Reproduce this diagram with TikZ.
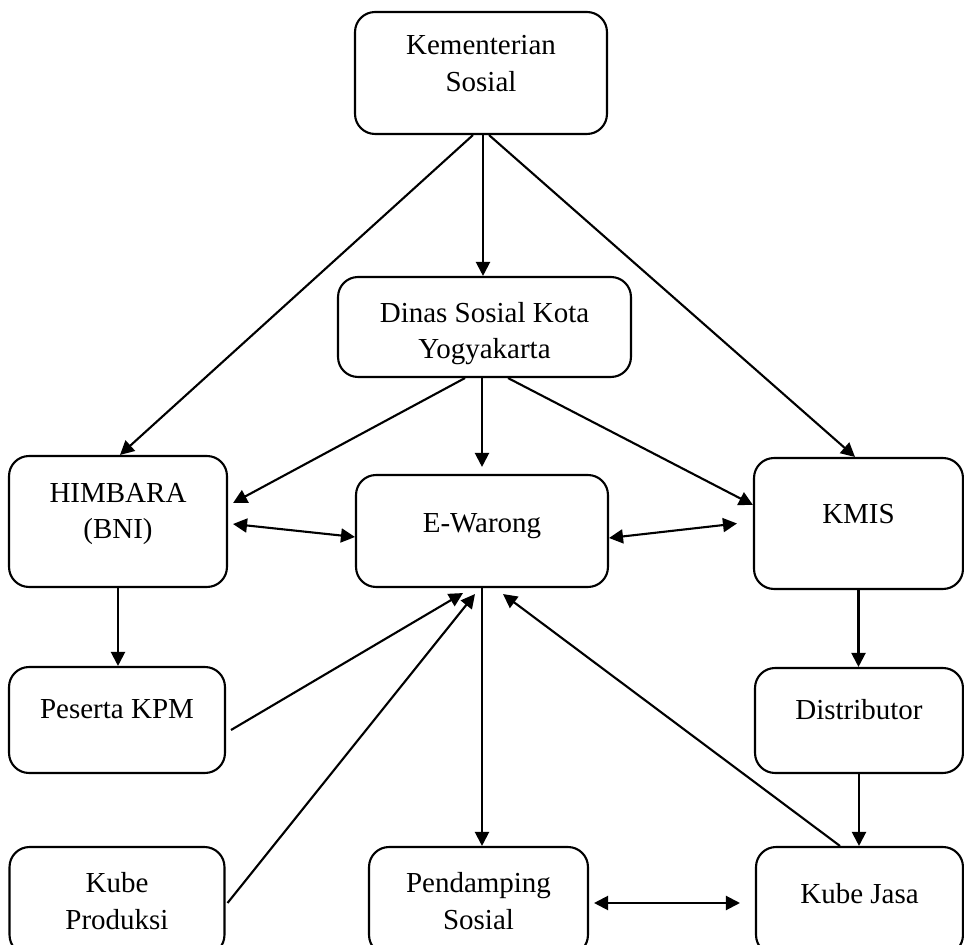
\documentclass[tikz,border=0pt]{standalone}
\usepackage{fontspec}
\setmainfont{Liberation Serif}
\usetikzlibrary{arrows.meta}
\begin{document}
\begin{tikzpicture}[x=.02cm, y=-.02cm, line width=1.2pt,
   >={Triangle[length=2.8mm,width=2.8mm]},
   box/.style={draw, rounded corners=.4cm, align=center, inner sep=0pt,
      font=\fontsize{16.5}{20.8}\selectfont},
   lift/.style={execute at end node={\rule[-#1]{0pt}{#1}}}]
   \useasboundingbox (0,0) rectangle (964,945);
   \clip (0,0) rectangle (964,945);

   \node[box, minimum width=5.04cm, minimum height=2.44cm, lift=.38cm] (kemsos) at (481,73) {Kementerian\\Sosial};
   \node[box, minimum width=5.86cm, minimum height=2cm] (dinsos) at (484.5,327) {\rule{0pt}{.66cm}Dinas Sosial Kota\\Yogyakarta};
   \node[box, minimum width=4.36cm, minimum height=2.62cm, lift=.42cm] (himbara) at (118,521.5) {HIMBARA\\(BNI)};
   \node[box, minimum width=5.04cm, minimum height=2.24cm, lift=.32cm] (ewarong) at (482,531) {E-Warong};
   \node[box, minimum width=4.18cm, minimum height=2.62cm, lift=.4cm] (kmis) at (858.5,523.5) {KMIS};
   \node[box, minimum width=4.32cm, minimum height=2.12cm, lift=.42cm] (peserta) at (117,720) {Peserta KPM};
   \node[box, minimum width=4.16cm, minimum height=2.1cm, lift=.46cm] (distri) at (859,720.5) {Distributor};
   \node[box, minimum width=4.3cm, minimum height=2.16cm] (kubeprod) at (117,901) {Kube\\Produksi};
   \node[box, minimum width=4.38cm, minimum height=2.16cm] (pendamping) at (478.5,901) {Pendamping\\Sosial};
   \node[box, minimum width=4.14cm, minimum height=2.16cm, lift=.32cm] (kubejasa) at (859.5,901) {Kube Jasa};

   \draw[->] ([xshift=-.16cm]kemsos.south) -- ([xshift=.04cm]himbara.north);
   \draw[->] ([xshift=.04cm]kemsos.south) -- ([xshift=.04cm]kemsos.south |- dinsos.north);
   \draw[->] ([xshift=.16cm]kemsos.south) -- ([xshift=-.07cm]kmis.north);
   \draw[->] (ewarong.north |- dinsos.south) -- ([yshift=.14cm]ewarong.north);
   \draw[->] ([xshift=-.39cm]dinsos.south) -- ([xshift=.1cm, yshift=.37cm]himbara.east);
   \draw[->] ([xshift=.47cm]dinsos.south) -- ([yshift=.37cm]kmis.west);

   \draw[<->] ([xshift=.1cm, yshift=-.05cm]himbara.east) -- ([yshift=-.12cm]ewarong.west);
   \draw[<->] ([yshift=-.14cm]ewarong.east) -- ([xshift=-.32cm]kmis.west);
   \draw[<->] ([xshift=.1cm, yshift=-.04cm]pendamping.east) -- ([xshift=-.3cm, yshift=-.04cm]kubejasa.west);

   \foreach \a/\b in {himbara/peserta, kmis/distri, ewarong/pendamping, distri/kubejasa}
   \draw[->] (\a.south) -- (\a.south |- \b.north);

   \draw[->] ([xshift=.1cm, yshift=-.2cm]peserta.east) -- ([xshift=-.38cm, yshift=-.1cm]ewarong.south);
   \draw[->] ([xshift=.04cm, yshift=-.04cm]kubeprod.east) -- ([xshift=-.14cm, yshift=-.12cm]ewarong.south);
   \draw[->] ([xshift=-.39cm]kubejasa.north) -- ([xshift=.42cm, yshift=-.12cm]ewarong.south);

\end{tikzpicture}
\end{document}
